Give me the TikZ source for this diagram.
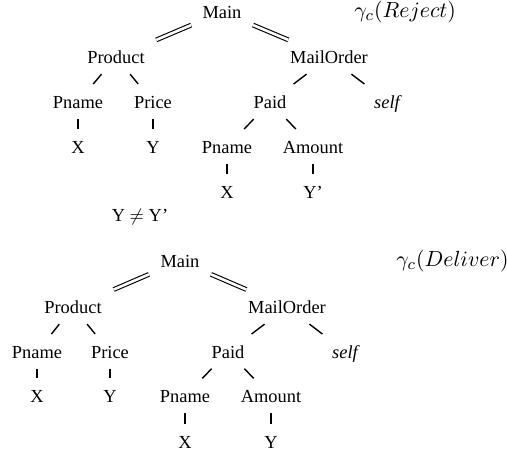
\documentclass[tikz,border=0pt]{standalone}
\usepackage[no-math]{fontspec}
\setmainfont{Liberation Serif}
\usetikzlibrary{calc}
\tikzset{
  tn/.style={inner sep=0pt, text height=6.2pt, text depth=0pt, font=\fontsize{9.2}{11}\selectfont},
  gam/.style={inner sep=0pt, anchor=west, font=\fontsize{11}{13}\selectfont},
  link/.style={line width=0.7pt,
    to path={($(\tikztostart)!0.38!(\tikztotarget)$) -- ($(\tikztostart)!0.6!(\tikztotarget)$)}},
  dlink/.style={line width=0.55pt, double, double distance=1.3pt,
    to path={($(\tikztostart)!0.29!(\tikztotarget)$) -- ($(\tikztostart)!0.62!(\tikztotarget)$)}}
}
\begin{document}
\begin{tikzpicture}[x=0.5pt,y=-0.5pt]
    \useasboundingbox (0,0) rectangle (507,457);

    % reject
    \node[tn] (main) at (222,12) {Main};
    \node[gam] (rej) at (354,12) {$\gamma_c(Reject)$};
    \node[tn] (prod) at (116,57) {Product};
    \node[tn] (mail) at (329,57) {MailOrder};
    \node[tn] (pname) at (78,102) {Pname};
    \node[tn] (price) at (153,102) {Price};
    \node[tn] (paid) at (270,102) {Paid};
    \node[tn] (self) at (388,102) {\textit{self}};
    \node[tn] (x) at (78,147) {X};
    \node[tn] (y) at (153,147) {Y};
    \node[tn] (ppname) at (227,147) {Pname};
    \node[tn] (amount) at (313,147) {Amount};
    \node[tn] (px) at (227,192) {X};
    \node[tn] (py) at (313,192) {Y'};
    \node[tn] (neq) at (140,215) {Y $\neq$ Y'};
    \draw[dlink] (main) to (prod);
    \draw[dlink] (main) to (mail);
    \draw[link] (prod) to (pname);
    \draw[link] (prod) to (price);
    \draw[link] (mail) to (paid);
    \draw[link] (mail) to (self);
    \draw[link] (pname) to (x);
    \draw[link] (price) to (y);
    \draw[link] (paid) to (ppname);
    \draw[link] (paid) to (amount);
    \draw[link] (ppname) to (px);
    \draw[link] (amount) to (py);

    % deliver
    \node[tn] (dmain) at (180,261) {Main};
    \node[gam] (del) at (396,261) {$\gamma_c(Deliver)$};
    \node[tn] (dprod) at (73,307) {Product};
    \node[tn] (dmail) at (287,307) {MailOrder};
    \node[tn] (dpname) at (37,352) {Pname};
    \node[tn] (dprice) at (110,352) {Price};
    \node[tn] (dpaid) at (228,352) {Paid};
    \node[tn] (dself) at (346,352) {\textit{self}};
    \node[tn] (dx) at (37,396) {X};
    \node[tn] (dy) at (110,396) {Y};
    \node[tn] (dppname) at (185,396) {Pname};
    \node[tn] (damount) at (271,396) {Amount};
    \node[tn] (dpx) at (185,442) {X};
    \node[tn] (dpy) at (271,442) {Y};
    \draw[dlink] (dmain) to (dprod);
    \draw[dlink] (dmain) to (dmail);
    \draw[link] (dprod) to (dpname);
    \draw[link] (dprod) to (dprice);
    \draw[link] (dmail) to (dpaid);
    \draw[link] (dmail) to (dself);
    \draw[link] (dpname) to (dx);
    \draw[link] (dprice) to (dy);
    \draw[link] (dpaid) to (dppname);
    \draw[link] (dpaid) to (damount);
    \draw[link] (dppname) to (dpx);
    \draw[link] (damount) to (dpy);
\end{tikzpicture}
\end{document}
